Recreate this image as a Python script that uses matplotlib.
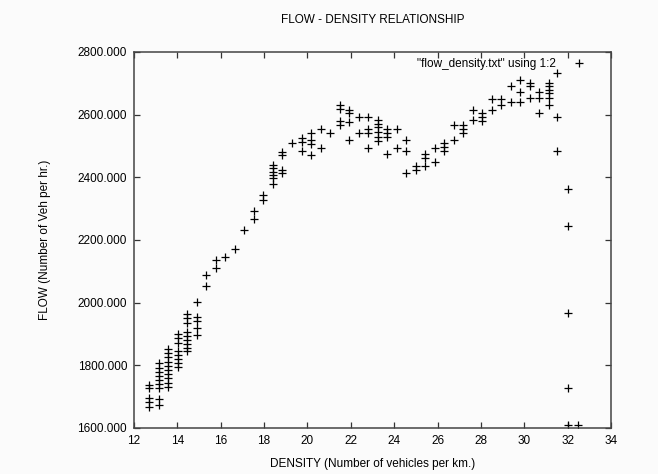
import matplotlib
matplotlib.use('Agg')
import matplotlib.pyplot as plt
from matplotlib.ticker import FormatStrFormatter, MultipleLocator

plt.rcParams['font.family'] = ['Liberation Sans Narrow', 'Liberation Sans', 'DejaVu Sans']
plt.rcParams['font.size'] = 8.5

# density (veh/km) and flow (veh/hr) pairs read from flow_density.txt
density = [
    12.69, 12.69, 12.69, 12.69, 12.69,
    13.15, 13.15, 13.15, 13.15, 13.15, 13.15, 13.15, 13.15, 13.15,
    13.57, 13.57, 13.57, 13.57, 13.57, 13.57, 13.57, 13.57, 13.57, 13.57,
    14.03, 14.03, 14.03, 14.03, 14.03, 14.03, 14.03, 14.03,
    14.46, 14.46, 14.46, 14.46, 14.46, 14.46, 14.46, 14.46, 14.46,
    14.92, 14.92, 14.92, 14.92, 14.92,
    15.33, 15.33,
    15.78, 15.78,
    16.20,
    16.66,
    17.09,
    17.55, 17.55,
    17.96, 17.96,
    18.42, 18.42, 18.42, 18.42, 18.42, 18.42,
    18.84, 18.84, 18.84, 18.84,
    19.31,
    19.76, 19.76, 19.76,
    20.16, 20.16, 20.16, 20.16,
    20.61, 20.61,
    21.04,
    21.50, 21.50, 21.50, 21.50,
    21.93, 21.93, 21.93, 21.93,
    22.38, 22.38,
    22.79, 22.79, 22.79, 22.79,
    23.25, 23.25, 23.25, 23.25, 23.25, 23.25,
    23.67, 23.67, 23.67, 23.67,
    24.12, 24.12,
    24.54, 24.54, 24.54,
    24.99, 24.99,
    25.41, 25.41, 25.41,
    25.87, 25.87,
    26.29, 26.29, 26.29,
    26.75, 26.75,
    27.17, 27.17, 27.17,
    27.62, 27.62,
    28.04, 28.04, 28.04,
    28.50, 28.50,
    28.91, 28.91,
    29.38, 29.38,
    29.80, 29.80, 29.80,
    30.27, 30.27, 30.27,
    30.68, 30.68, 30.68,
    31.14, 31.14, 31.14, 31.14, 31.14, 31.14,
    31.53, 31.53, 31.53,
    32.03, 32.03, 32.03, 32.03, 32.03,
    32.50,
]

flow = [
    1737, 1727, 1695, 1682, 1668,
    1806, 1793, 1779, 1765, 1753, 1739, 1727, 1692, 1673,
    1851, 1838, 1826, 1812, 1798, 1785, 1772, 1759, 1745, 1730,
    1899, 1886, 1872, 1847, 1833, 1819, 1807, 1794,
    1963, 1950, 1934, 1907, 1895, 1881, 1868, 1856, 1846,
    2003, 1955, 1942, 1918, 1897,
    2088, 2053,
    2136, 2112,
    2147,
    2171,
    2232,
    2291, 2268,
    2344, 2329,
    2439, 2429, 2418, 2408, 2397, 2378,
    2482, 2471, 2423, 2413,
    2508,
    2525, 2512, 2484,
    2542, 2520, 2507, 2471,
    2555, 2493,
    2543,
    2631, 2617, 2581, 2567,
    2615, 2604, 2578, 2519,
    2594, 2542,
    2594, 2554, 2542, 2493,
    2583, 2570, 2560, 2546, 2530, 2517,
    2554, 2541, 2530, 2474,
    2554, 2495,
    2519, 2484, 2413,
    2436, 2423,
    2474, 2461, 2436,
    2495, 2450,
    2509, 2496, 2484,
    2567, 2519,
    2567, 2553, 2541,
    2615, 2583,
    2606, 2594, 2580,
    2650, 2615,
    2650, 2630,
    2690, 2642,
    2711, 2673, 2642,
    2700, 2690, 2652,
    2673, 2652, 2606,
    2700, 2690, 2679, 2668, 2652, 2631,
    2734, 2592, 2484,
    2363, 2246, 1966, 1727, 1610,
    1610,
]

fig = plt.figure(figsize=(6.58, 4.74), dpi=100, facecolor='#fbfbfb')
ax = fig.add_axes([134/658, 1 - 428/474, 477/658, 376/474])
ax.set_facecolor('#fbfbfb')

ax.plot(density, flow, '+', color='black', markersize=5.5, markeredgewidth=0.9,
        label='"flow_density.txt" using 1:2')

ax.set_xlim(12, 34)
ax.set_ylim(1600, 2800)
ax.xaxis.set_major_locator(MultipleLocator(2))
ax.yaxis.set_major_locator(MultipleLocator(200))
ax.yaxis.set_major_formatter(FormatStrFormatter('%.3f'))
ax.tick_params(direction='in', length=4, width=0.9, color='#333333',
               top=True, right=True, pad=5, labelsize=8.5)
for s in ax.spines.values():
    s.set_color('#444444')
    s.set_linewidth(1.1)

ax.set_title('FLOW - DENSITY RELATIONSHIP', fontsize=8.5, pad=21)
ax.set_xlabel('DENSITY (Number of vehicles per km.)', fontsize=8.5, labelpad=8)
ax.set_ylabel('FLOW (Number of Veh per hr.)', fontsize=8.5, labelpad=19)

ax.legend(loc='upper right', frameon=False, markerfirst=False,
          handlelength=2, handletextpad=1.0, borderpad=0, borderaxespad=0,
          bbox_to_anchor=(0.958, 0.985), fontsize=8.5)

fig.savefig('out.png', dpi=100, facecolor=fig.get_facecolor())
